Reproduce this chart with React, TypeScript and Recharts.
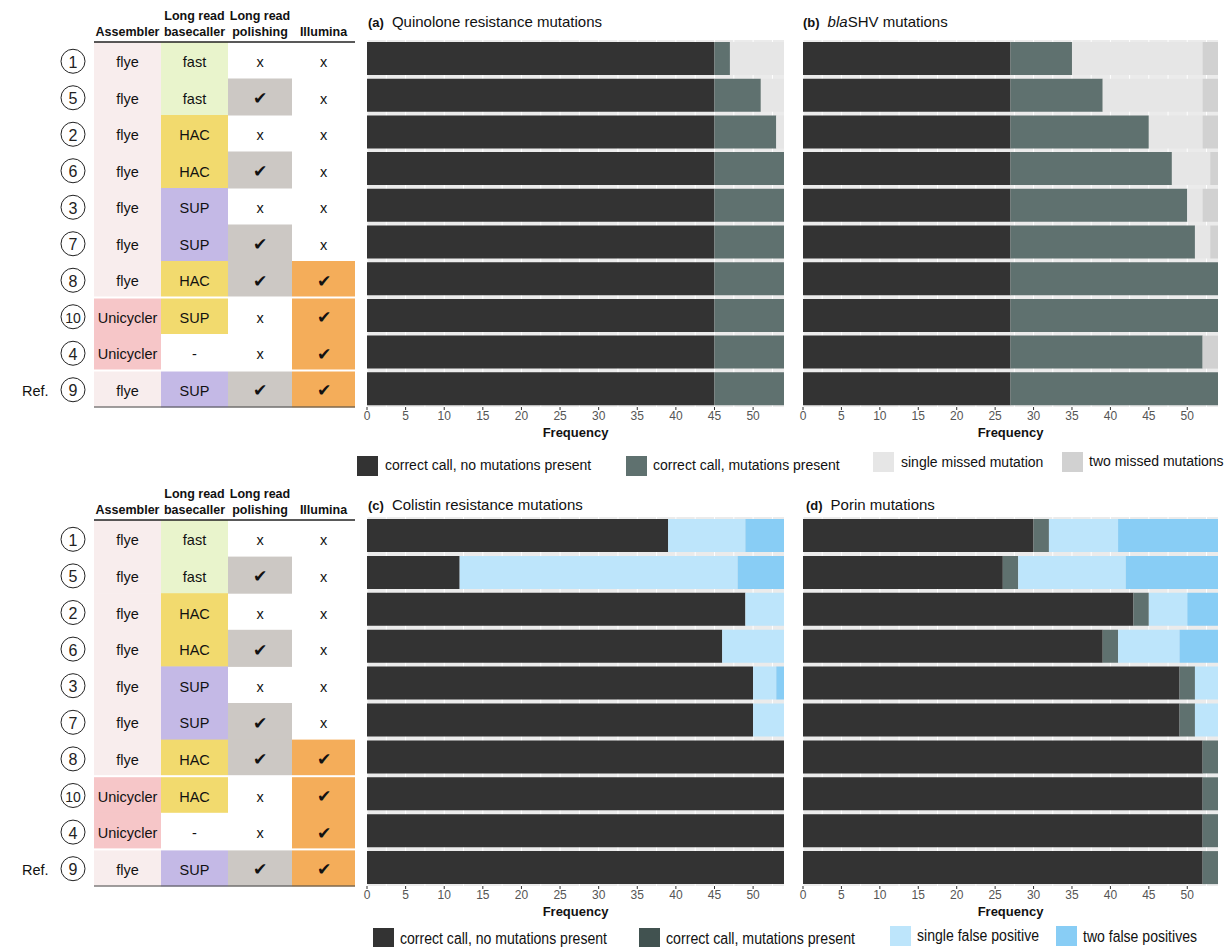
import { BarChart, Bar, XAxis, YAxis, CartesianGrid } from 'recharts';

const FONT = "'Liberation Sans', Arial, sans-serif";

// pipeline runs, top to bottom
const runOrder = ['1', '5', '2', '6', '3', '7', '8', '10', '4', '9'];
const assemblers = ['flye', 'flye', 'flye', 'flye', 'flye', 'flye', 'flye', 'Unicycler', 'Unicycler', 'flye'];
const callersTop = ['fast', 'fast', 'HAC', 'HAC', 'SUP', 'SUP', 'HAC', 'SUP', '-', 'SUP'];
const callersBottom = ['fast', 'fast', 'HAC', 'HAC', 'SUP', 'SUP', 'HAC', 'HAC', '-', 'SUP'];
const callerTone = ['fast', 'fast', 'HAC', 'HAC', 'SUP', 'SUP', 'HAC', 'HAC', '-', 'SUP'];
const longReadPolish = [false, true, false, true, false, true, true, false, false, true];
const illuminaPolish = [false, false, false, false, false, false, true, true, true, true];

const xMax = 54;
const xTicks = [0, 5, 10, 15, 20, 25, 30, 35, 40, 45, 50];

// (a) quinolone resistance
const quinoloneNone = [45, 45, 45, 45, 45, 45, 45, 45, 45, 45];
const quinolonePresent = [2, 6, 8, 9, 9, 9, 9, 9, 9, 9];
const quinoloneSingle = [7, 3, 1, 0, 0, 0, 0, 0, 0, 0];
const quinoloneTwo = [0, 0, 0, 0, 0, 0, 0, 0, 0, 0];

// (b) blaSHV
const shvNone = [27, 27, 27, 27, 27, 27, 27, 27, 27, 27];
const shvPresent = [8, 12, 18, 21, 23, 24, 27, 27, 25, 27];
const shvSingle = [17, 13, 7, 5, 2, 2, 0, 0, 0, 0];
const shvTwo = [2, 2, 2, 1, 2, 1, 0, 0, 2, 0];

// (c) colistin resistance
const colistinNone = [39, 12, 49, 46, 50, 50, 54, 54, 54, 54];
const colistinPresent = [0, 0, 0, 0, 0, 0, 0, 0, 0, 0];
const colistinSingle = [10, 36, 5, 8, 3, 4, 0, 0, 0, 0];
const colistinTwo = [5, 6, 0, 0, 1, 0, 0, 0, 0, 0];

// (d) porins
const porinNone = [30, 26, 43, 39, 49, 49, 52, 52, 52, 52];
const porinPresent = [2, 2, 2, 2, 2, 2, 2, 2, 2, 2];
const porinSingle = [9, 14, 5, 8, 3, 3, 0, 0, 0, 0];
const porinTwo = [13, 12, 4, 5, 0, 0, 0, 0, 0, 0];

const missedSeries = [
  { key: 'none', name: 'correct call, no mutations present', color: '#333333' },
  { key: 'present', name: 'correct call, mutations present', color: '#5f716f' },
  { key: 'single', name: 'single missed mutation', color: '#e6e6e6' },
  { key: 'two', name: 'two missed mutations', color: '#d1d1d1' },
];

const falsePosSeries = [
  { key: 'none', name: 'correct call, no mutations present', color: '#333333' },
  { key: 'present', name: 'correct call, mutations present', color: '#5f716f' },
  { key: 'single', name: 'single false positive', color: '#bde5fb' },
  { key: 'two', name: 'two false positives', color: '#88cdf5' },
];

const makeRows = (none: number[], present: number[], single: number[], two: number[]) =>
  runOrder.map((id, i) => ({ id, none: none[i], present: present[i], single: single[i], two: two[i] }));

const callerFill: Record<string, string> = { fast: '#e9f4cc', HAC: '#f2da6e', SUP: '#c4b9e6', '-': '#ffffff' };
const assemblerFill: Record<string, string> = { flye: '#f8eded', Unicycler: '#f6c6c8' };
const colX = [94, 161, 228, 292, 355];

function SetupTable({ top, lineY, pitch, callers }: { top: number; lineY: number; pitch: number; callers: string[] }) {
  const h = lineY + pitch * 10 + 6;
  const mid = (i: number) => lineY + pitch * i + pitch / 2 + 2;
  const txt = { fontFamily: FONT, fontSize: 14.5, fill: '#111' };
  const head = { fontFamily: FONT, fontSize: 12.5, fontWeight: 700, fill: '#111', textAnchor: 'middle' as const };
  return (
    <svg width={360} height={h} style={{ position: 'absolute', left: 0, top }}>
      <text x={(colX[1] + colX[2]) / 2} y={lineY - 22} {...head}>Long read</text>
      <text x={(colX[2] + colX[3]) / 2} y={lineY - 22} {...head}>Long read</text>
      <text x={(colX[0] + colX[1]) / 2} y={lineY - 6} {...head}>Assembler</text>
      <text x={(colX[1] + colX[2]) / 2} y={lineY - 6} {...head}>basecaller</text>
      <text x={(colX[2] + colX[3]) / 2} y={lineY - 6} {...head}>polishing</text>
      <text x={(colX[3] + colX[4]) / 2} y={lineY - 6} {...head}>Illumina</text>
      {runOrder.map((id, i) => {
        const y = lineY + pitch * i;
        return (
          <g key={id}>
            <rect x={colX[0]} y={y} width={colX[1] - colX[0]} height={pitch + 0.5} fill={assemblerFill[assemblers[i]]} />
            <rect x={colX[1]} y={y} width={colX[2] - colX[1]} height={pitch + 0.5} fill={callerFill[callerTone[i]]} />
            {longReadPolish[i] && <rect x={colX[2]} y={y} width={colX[3] - colX[2]} height={pitch + 0.5} fill="#ccc8c4" />}
            {illuminaPolish[i] && <rect x={colX[3]} y={y} width={colX[4] - colX[3]} height={pitch + 0.5} fill="#f4ad5a" />}
          </g>
        );
      })}
      {[7, 9].map((k) => (
        <rect key={k} x={colX[0]} y={lineY + pitch * k - 1} width={colX[4] - colX[0]} height={2} fill="#ffffff" />
      ))}
      {runOrder.map((id, i) => (
        <g key={`t${id}`}>
          <circle cx={73} cy={mid(i) - 1} r={12} fill="none" stroke="#222" strokeWidth={1} />
          <text x={73} y={mid(i)} dominantBaseline="central" textAnchor="middle" fontFamily={FONT} fontSize={id.length > 1 ? 14 : 16} fill="#222">{id}</text>
          <text x={(colX[0] + colX[1]) / 2} y={mid(i)} dominantBaseline="central" textAnchor="middle" {...txt}>{assemblers[i]}</text>
          <text x={(colX[1] + colX[2]) / 2} y={mid(i)} dominantBaseline="central" textAnchor="middle" {...txt}>{callers[i]}</text>
          <text x={(colX[2] + colX[3]) / 2} y={mid(i)} dominantBaseline="central" textAnchor="middle" {...txt} fontSize={longReadPolish[i] ? 17 : 14.5}>{longReadPolish[i] ? '\u2714' : 'x'}</text>
          <text x={(colX[3] + colX[4]) / 2} y={mid(i)} dominantBaseline="central" textAnchor="middle" {...txt} fontSize={illuminaPolish[i] ? 17 : 14.5}>{illuminaPolish[i] ? '\u2714' : 'x'}</text>
        </g>
      ))}
      <text x={22} y={mid(9)} dominantBaseline="central" {...txt}>Ref.</text>
      <line x1={colX[0]} x2={colX[4]} y1={lineY} y2={lineY} stroke="#222" strokeWidth={1.5} />
      <line x1={colX[0]} x2={colX[4]} y1={lineY + pitch * 10} y2={lineY + pitch * 10} stroke="#444" strokeWidth={1} />
    </svg>
  );
}

type Series = { key: string; name: string; color: string };

// white major + minor gridlines, spaced like the axis breaks
const gridBreaks = xTicks.flatMap((t) => [t, t + 2.5]);

function gridXs(props: any): number[] {
  const off = props?.offset;
  if (!off || typeof off.left !== 'number') return [];
  return gridBreaks.map((v) => off.left + (v / xMax) * off.width);
}

function FreqPanel({ data, series, left, right, top, bottom }: {
  data: ReturnType<typeof makeRows>; series: Series[]; left: number; right: number; top: number; bottom: number;
}) {
  const pad = 12;
  const axisH = 24;
  return (
    <div style={{ position: 'absolute', left: left - pad, top }}>
      <BarChart
        width={right - left + 2 * pad}
        height={bottom - top + axisH}
        data={data}
        layout="vertical"
        margin={{ top: 0, right: pad, bottom: 0, left: pad }}
        barCategoryGap={2}
      >
        <CartesianGrid fill="#ebebeb" stroke="#ffffff" horizontal={false} verticalCoordinatesGenerator={gridXs} />
        <XAxis
          type="number"
          domain={[0, xMax]}
          ticks={xTicks}
          interval={0}
          height={axisH}
          allowDataOverflow
          axisLine={false}
          tickSize={3}
          tickMargin={1}
          tickLine={{ stroke: '#333333' }}
          tick={{ fontSize: 12, fill: '#555555', fontFamily: FONT }}
        />
        <YAxis type="category" dataKey="id" hide />
        {series.map((s) => (
          <Bar key={s.key} dataKey={s.key} name={s.name} stackId="calls" fill={s.color} isAnimationActive={false} />
        ))}
      </BarChart>
      <div style={{ position: 'absolute', left: 0, width: right - left + 2 * pad, top: bottom - top + 18, textAlign: 'center', fontFamily: FONT, fontSize: 13, fontWeight: 700, color: '#111' }}>
        Frequency
      </div>
    </div>
  );
}

function PanelTitle({ x, y, tag, children }: { x: number; y: number; tag: string; children: any }) {
  return (
    <div style={{ position: 'absolute', left: x, top: y, fontFamily: FONT, fontSize: 15, color: '#111', whiteSpace: 'nowrap' }}>
      <span style={{ fontWeight: 700, fontSize: 13, marginRight: 8 }}>{tag}</span>
      {children}
    </div>
  );
}

// legend strip: swatch + label per series; labels can be squeezed to a set width
function KeyRow({ top, series, boxX, boxY, textX, textW, textY, fontSize, swatchColors }: {
  top: number; series: Series[]; boxX: number[]; boxY: number[]; textX: number[]; textW?: number[];
  textY: number[]; fontSize: number; swatchColors?: string[];
}) {
  return (
    <svg width={1231} height={40} style={{ position: 'absolute', left: 0, top }}>
      {series.map((s, i) => (
        <g key={s.key}>
          <rect x={boxX[i]} y={boxY[i] - top} width={21} height={20} fill={swatchColors ? swatchColors[i] : s.color} />
          <text
            x={textX[i]}
            y={textY[i] - top}
            dominantBaseline="central"
            fontFamily={FONT}
            fontSize={fontSize}
            fill="#111"
            {...(textW ? { textLength: textW[i], lengthAdjust: 'spacingAndGlyphs' } : {})}
          >
            {s.name}
          </text>
        </g>
      ))}
    </svg>
  );
}

export default function App() {
  return (
    <div style={{ position: 'absolute', left: 0, top: 0, width: 1231, height: 947, background: '#fff', overflow: 'hidden' }}>
      <SetupTable top={0} lineY={42} pitch={36.5} callers={callersTop} />
      <SetupTable top={0} lineY={520} pitch={36.6} callers={callersBottom} />

      <PanelTitle x={368} y={13} tag="(a)">Quinolone resistance mutations</PanelTitle>
      <PanelTitle x={803} y={13} tag="(b)"><i>bla</i>SHV mutations</PanelTitle>
      <PanelTitle x={368} y={496} tag="(c)">Colistin resistance mutations</PanelTitle>
      <PanelTitle x={806} y={496} tag="(d)">Porin mutations</PanelTitle>

      <FreqPanel data={makeRows(quinoloneNone, quinolonePresent, quinoloneSingle, quinoloneTwo)} series={missedSeries} left={367} right={784} top={40} bottom={407} />
      <FreqPanel data={makeRows(shvNone, shvPresent, shvSingle, shvTwo)} series={missedSeries} left={803} right={1218} top={40} bottom={407} />
      <FreqPanel data={makeRows(colistinNone, colistinPresent, colistinSingle, colistinTwo)} series={falsePosSeries} left={367} right={784} top={517} bottom={886} />
      <FreqPanel data={makeRows(porinNone, porinPresent, porinSingle, porinTwo)} series={falsePosSeries} left={803} right={1218} top={517} bottom={886} />

      <KeyRow
        top={445}
        series={missedSeries}
        boxX={[357, 626, 873, 1062]}
        boxY={[456, 456, 452, 452]}
        textX={[385, 653, 901, 1089]}
        textY={[465, 465, 462, 461]}
        fontSize={14}
      />
      <KeyRow
        top={915}
        series={falsePosSeries}
        boxX={[373, 639, 890, 1056]}
        boxY={[928, 928, 926, 926]}
        textX={[400, 666, 917, 1083]}
        textW={[207, 189, 122, 114]}
        textY={[938, 938, 935, 936]}
        fontSize={16}
        swatchColors={['#333333', '#415250', '#bde5fb', '#88cdf5']}
      />
    </div>
  );
}
